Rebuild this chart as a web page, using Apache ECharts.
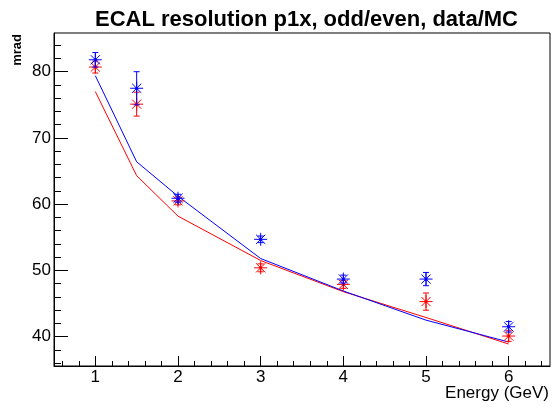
<!DOCTYPE html>
<html>
<head>
<meta charset="utf-8">
<script src="https://cdn.jsdelivr.net/npm/echarts@6/dist/echarts.min.js"></script>
<style>
html,body{margin:0;padding:0;background:#fff;}
#c{width:556px;height:407px;}
</style>
</head>
<body>
<div id="c"></div>
<script>
// Energy points (GeV)
var energies = [1, 1.5, 2, 3, 4, 5, 6];
// Data points (markers) with errors
var blueVals = [81.8, 77.5, 60.9, 54.7, 48.7, 48.7, 41.5];
var blueErrs = [1.1, 2.5, 0.6, 0.5, 0.6, 1.0, 0.8];
var redVals  = [80.7, 75.1, 60.5, 50.4, 47.9, 45.3, 40.1];
var redErrs  = [0.9, 1.8, 0.6, 0.6, 0.6, 1.3, 0.8];
// Lines (MC)
var blueLine = [79.4, 66.4, 61.2, 51.8, 46.9, 42.5, 39.2];
var redLine  = [77.0, 64.3, 58.2, 51.5, 46.8, 42.9, 38.9];
// Tick values
var xMajor = [1, 2, 3, 4, 5, 6];
var xMinor = [0.6, 0.8, 1.2, 1.4, 1.6, 1.8, 2.2, 2.4, 2.6, 2.8, 3.2, 3.4, 3.6, 3.8, 4.2, 4.4, 4.6, 4.8, 5.2, 5.4, 5.6, 5.8, 6.2, 6.4];
var yMajor = [40, 50, 60, 70, 80];
var yMinor = [36, 38, 42, 44, 46, 48, 52, 54, 56, 58, 62, 64, 66, 68, 72, 74, 76, 78, 82, 84];

var titleText = 'ECAL resolution p1x, odd/even, data/MC';
var xName = 'Energy (GeV)';
var yName = 'mrad';

function zip(xs, ys, es) {
  return xs.map(function (x, i) { return es ? [x, ys[i], es[i]] : [x, ys[i]]; });
}

function starItem(color) {
  return function (params, api) {
    var x = api.value(0), y = api.value(1), e = api.value(2);
    var c = api.coord([x, y]);
    var top = api.coord([x, y + e]);
    var bot = api.coord([x, y - e]);
    var r = 6.5, d = 4.6, cap = 3;
    var st = { stroke: color, lineWidth: 1 };
    return {
      type: 'group',
      children: [
        { type: 'line', shape: { x1: c[0], y1: top[1], x2: c[0], y2: bot[1] }, style: st },
        { type: 'line', shape: { x1: c[0] - cap, y1: top[1], x2: c[0] + cap, y2: top[1] }, style: st },
        { type: 'line', shape: { x1: c[0] - cap, y1: bot[1], x2: c[0] + cap, y2: bot[1] }, style: st },
        { type: 'line', shape: { x1: c[0] - r, y1: c[1], x2: c[0] + r, y2: c[1] }, style: st },
        { type: 'line', shape: { x1: c[0], y1: c[1] - r, x2: c[0], y2: c[1] + r }, style: st },
        { type: 'line', shape: { x1: c[0] - d, y1: c[1] - d, x2: c[0] + d, y2: c[1] + d }, style: st },
        { type: 'line', shape: { x1: c[0] - d, y1: c[1] + d, x2: c[0] + d, y2: c[1] - d }, style: st },
        { type: 'circle', shape: { cx: c[0], cy: c[1], r: 1.6 }, style: { fill: color } }
      ]
    };
  };
}

var font = '"Liberation Sans", Arial, Helvetica, sans-serif';
var chart = echarts.init(document.getElementById('c'), null, { renderer: 'canvas' });
var xBase = { type: 'value', min: 0.5, max: 6.5, gridIndex: 0, position: 'bottom', splitLine: { show: false } };
var yBase = { type: 'value', min: 35.58, max: 85.84, gridIndex: 0, position: 'left', splitLine: { show: false } };

chart.setOption({
  animation: false,
  backgroundColor: '#ffffff',
  grid: { left: 54, right: 6, top: 33, bottom: 41, show: true, borderColor: '#000', borderWidth: 1, backgroundColor: 'transparent' },
  xAxis: [
    Object.assign({}, xBase, {
      axisLine: { show: true, lineStyle: { color: '#000', width: 1 } },
      axisTick: { show: true, inside: true, length: 10, customValues: xMajor, lineStyle: { color: '#000' } },
      axisLabel: { show: true, customValues: xMajor, margin: 3, color: '#000', fontSize: 17, fontFamily: font }
    }),
    Object.assign({}, xBase, {
      axisLine: { show: false },
      axisTick: { show: true, inside: true, length: 5, customValues: xMinor, lineStyle: { color: '#000' } },
      axisLabel: { show: false }
    })
  ],
  yAxis: [
    Object.assign({}, yBase, {
      axisLine: { show: true, lineStyle: { color: '#000', width: 1 } },
      axisTick: { show: true, inside: true, length: 14, customValues: yMajor, lineStyle: { color: '#000' } },
      axisLabel: { show: true, customValues: yMajor, margin: 3, color: '#000', fontSize: 17, fontFamily: font }
    }),
    Object.assign({}, yBase, {
      axisLine: { show: false },
      axisTick: { show: true, inside: true, length: 7, customValues: yMinor, lineStyle: { color: '#000' } },
      axisLabel: { show: false }
    })
  ],
  graphic: [
    { type: 'text', x: 306.5, y: 19.5, style: { text: titleText, align: 'center', verticalAlign: 'middle', fontSize: 22, fontWeight: 'bold', fontFamily: font, fill: '#000' } },
    { type: 'text', x: 549, y: 393, style: { text: xName, align: 'right', verticalAlign: 'middle', fontSize: 17, fontFamily: font, fill: '#000' } },
    { type: 'text', x: 17.5, y: 34, rotation: Math.PI / 2, style: { text: yName, align: 'right', verticalAlign: 'middle', fontSize: 13, fontWeight: 'bold', fontFamily: font, fill: '#000' } }
  ],
  series: [
    { type: 'line', xAxisIndex: 0, yAxisIndex: 0, data: zip(energies, redLine), symbol: 'none', lineStyle: { color: '#ff0000', width: 1 }, z: 2 },
    { type: 'line', xAxisIndex: 0, yAxisIndex: 0, data: zip(energies, blueLine), symbol: 'none', lineStyle: { color: '#0000ff', width: 1 }, z: 3 },
    { type: 'custom', xAxisIndex: 0, yAxisIndex: 0, data: zip(energies, redVals, redErrs), renderItem: starItem('#ff0000'), z: 4 },
    { type: 'custom', xAxisIndex: 0, yAxisIndex: 0, data: zip(energies, blueVals, blueErrs), renderItem: starItem('#0000ff'), z: 5 }
  ]
});
</script>
</body>
</html>
